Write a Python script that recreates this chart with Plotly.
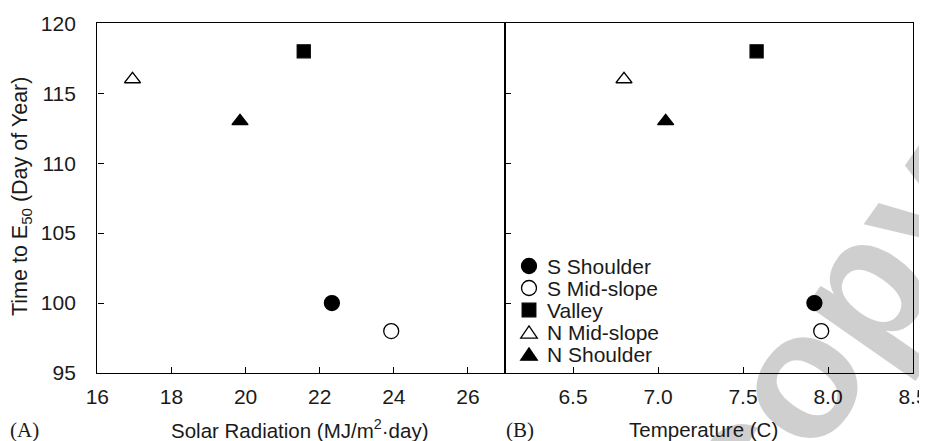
import plotly.graph_objects as go

# ---- data ----
sites = ["S Shoulder", "S Mid-slope", "Valley", "N Mid-slope", "N Shoulder"]
solar_radiation = [22.33, 23.93, 21.57, 16.95, 19.85]   # MJ/m2-day
temperature = [7.92, 7.96, 7.58, 6.80, 7.045]          # C
e50_day = [100, 98, 118, 116, 113]                      # day of year

x1_ticks = [16, 18, 20, 22, 24, 26]
x2_ticks = [6.5, 7.0, 7.5, 8.0, 8.5]
y_ticks = [95, 100, 105, 110, 115, 120]

# ---- styles ----
symbols = ["circle", "circle", "square", "triangle-up", "triangle-up"]
fills = ["black", "white", "black", "white", "black"]
sizes = [15, 15, 13, 14, 14]

# the page body has an 8px margin, so the figure is drawn 8px in from the window edge
OFF = 8
W, H = 927 - OFF, 441 - OFF
def px(v):
    return (v - OFF) / W
def py(v):
    return 1 - (v - OFF) / H

FONT = "Liberation Sans, Arial, Helvetica, sans-serif"
INK = "#1a1a1a"

fig = go.Figure()
for i, s in enumerate(sites):
    for xs, xa, ya in ((solar_radiation, "x", "y"), (temperature, "x2", "y2")):
        fig.add_trace(go.Scatter(
            x=[xs[i]], y=[e50_day[i]], mode="markers", name=s,
            xaxis=xa, yaxis=ya, showlegend=False,
            marker=dict(symbol=symbols[i], size=sizes[i], color=fills[i],
                        line=dict(color="black", width=1.3)),
        ))

axis_common = dict(showline=True, linecolor="black", linewidth=1.4, mirror=True,
                   ticks="inside", ticklen=6, tickwidth=1.2, tickcolor="black",
                   showgrid=False, zeroline=False, automargin=False,
                   ticklabeloverflow="allow",
                   tickfont=dict(family=FONT, size=21, color=INK))

fig.update_layout(
    template="none",
    width=W, height=H,
    margin=dict(l=0, r=0, t=0, b=0, autoexpand=False),
    paper_bgcolor="white", plot_bgcolor="white",
    font=dict(family=FONT, size=21, color=INK),
    xaxis=dict(domain=[px(97.3), px(505)], range=[16, 27], tickvals=x1_ticks,
               anchor="y", ticklabelstandoff=5, **axis_common),
    yaxis=dict(domain=[py(373), py(23.3)], range=[95, 120], tickvals=y_ticks,
               anchor="x", ticklabelstandoff=16, **axis_common),
    xaxis2=dict(domain=[px(505), px(913)], range=[6.1, 8.5], tickvals=x2_ticks,
                tickformat=".1f", anchor="y2", ticklabelstandoff=5, **axis_common),
    yaxis2=dict(domain=[py(373), py(23.3)], range=[95, 120], tickvals=y_ticks,
                anchor="x2", showticklabels=False, **axis_common),
)

ann = []
# watermark (semi-transparent so black lines stay black)
ann.append(dict(text="<b>copy</b>", x=px(826), y=py(334), xref="paper", yref="paper",
                showarrow=False, textangle=-55, xanchor="center", yanchor="middle",
                font=dict(family=FONT, size=180, color="rgba(0,0,0,0.19)")))
# axis titles
ann.append(dict(text="Time to E<sub>50</sub> (Day of Year)", x=px(22), y=py(197),
                xref="paper", yref="paper", showarrow=False, textangle=-90,
                xanchor="center", yanchor="middle", font=dict(size=21.5)))
ann.append(dict(text="Solar Radiation (MJ/m<sup>2</sup>\u00b7day)", x=px(300), y=py(429),
                xref="paper", yref="paper", showarrow=False,
                xanchor="center", yanchor="middle", font=dict(size=20.5)))
ann.append(dict(text="Temperature (C)", x=px(703), y=py(429),
                xref="paper", yref="paper", showarrow=False,
                xanchor="center", yanchor="middle", font=dict(size=20.5)))
for lab, xc in (("(A)", 24), ("(B)", 520)):
    ann.append(dict(text=lab, x=px(xc), y=py(430), xref="paper", yref="paper",
                    showarrow=False, xanchor="center", yanchor="middle",
                    font=dict(family="Liberation Serif, Times New Roman, serif", size=21)))

# legend (custom, to match the tight row spacing)
shapes = []
mx, tx = 529, 545
rows = [266, 288, 310, 332, 354]
for i, s in enumerate(sites):
    yc = rows[i]
    ann.append(dict(text=s, x=px(tx), y=py(yc), xref="paper", yref="paper",
                    showarrow=False, xanchor="left", yanchor="middle",
                    font=dict(size=21)))
    line = dict(color="black", width=1.3)
    if symbols[i] == "circle":
        r = 7.5
        shapes.append(dict(type="circle", xref="paper", yref="paper",
                           x0=px(mx - r), x1=px(mx + r), y0=py(yc + r), y1=py(yc - r),
                           fillcolor=fills[i], line=line))
    elif symbols[i] == "square":
        r = 6.8
        shapes.append(dict(type="rect", xref="paper", yref="paper",
                           x0=px(mx - r), x1=px(mx + r), y0=py(yc + r), y1=py(yc - r),
                           fillcolor=fills[i], line=line))
    else:
        hw, hh = 8.3, 6.2
        path = "M {:.5f},{:.5f} L {:.5f},{:.5f} L {:.5f},{:.5f} Z".format(
            px(mx - hw), py(yc + hh), px(mx + hw), py(yc + hh), px(mx), py(yc - hh))
        shapes.append(dict(type="path", xref="paper", yref="paper", path=path,
                           fillcolor=fills[i], line=line))

fig.update_layout(annotations=ann, shapes=shapes)
fig.write_html("out.html")
